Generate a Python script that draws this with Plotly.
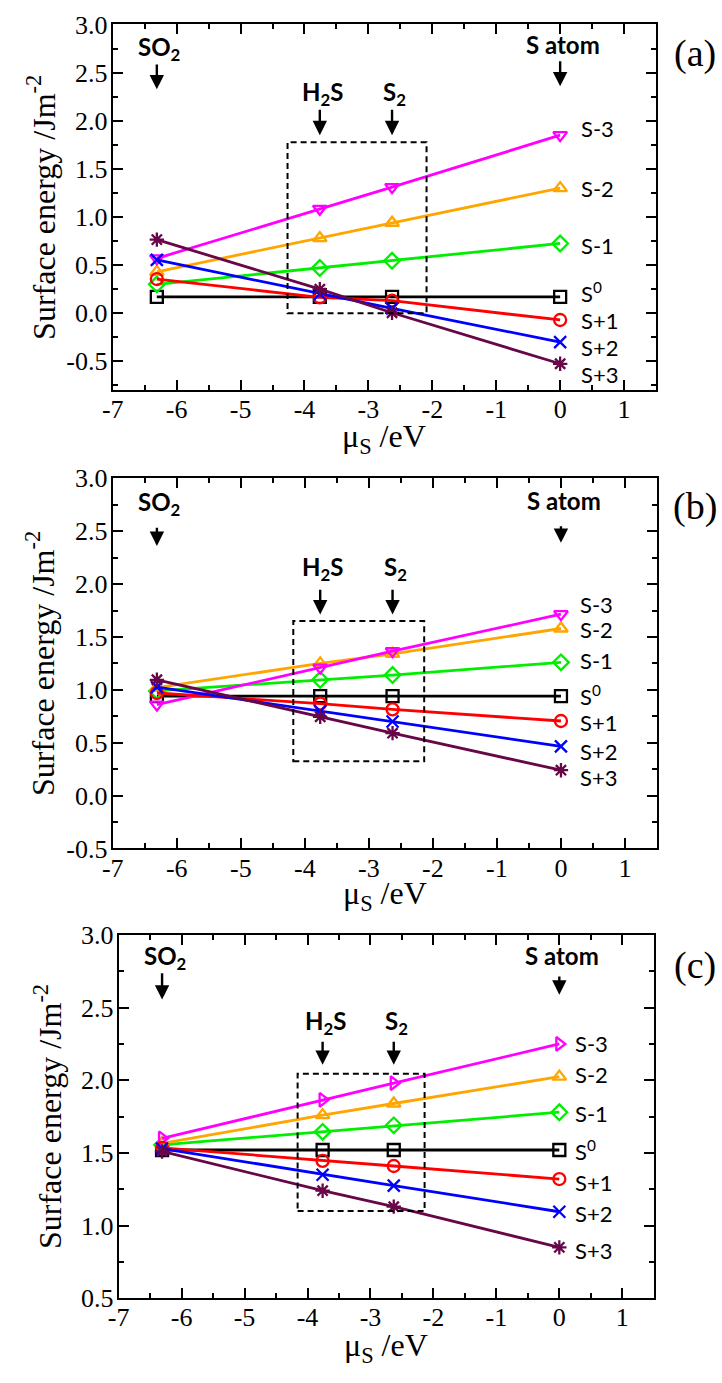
import plotly.graph_objects as go

# ---------------- data ----------------
mu_s = [-6.31, -3.76, -2.63, 0.0]          # SO2, H2S, S2, S atom

series_keys = ["S-3", "S-2", "S-1", "S0", "S+1", "S+2", "S+3"]
series_text = ["S-3", "S-2", "S-1", "S<sup>0</sup>", "S+1", "S+2", "S+3"]

# panel (a)
a_sm3 = [0.57, 1.085, 1.31, 1.85]
a_sm2 = [0.43, 0.78, 0.94, 1.30]
a_sm1 = [0.30, 0.47, 0.545, 0.725]
a_s0 = [0.17, 0.17, 0.17, 0.17]
a_sp1 = [0.355, 0.165, 0.13, -0.07]
a_sp2 = [0.555, 0.20, 0.05, -0.30]
a_sp3 = [0.765, 0.25, 0.005, -0.525]

# panel (b)
b_sm3 = [0.86, 1.21, 1.365, 1.715]
b_sm2 = [1.02, 1.25, 1.34, 1.58]
b_sm1 = [0.99, 1.095, 1.14, 1.26]
b_s0 = [0.94, 0.94, 0.94, 0.94]
b_sp1 = [0.97, 0.87, 0.815, 0.705]
b_sp2 = [1.025, 0.80, 0.70, 0.465]
b_sp3 = [1.095, 0.745, 0.59, 0.24]

# panel (c)
c_sm3 = [1.60, 1.865, 1.98, 2.25]
c_sm2 = [1.565, 1.76, 1.84, 2.025]
c_sm1 = [1.555, 1.645, 1.69, 1.78]
c_s0 = [1.52, 1.52, 1.52, 1.52]
c_sp1 = [1.535, 1.445, 1.41, 1.32]
c_sp2 = [1.53, 1.35, 1.275, 1.095]
c_sp3 = [1.51, 1.24, 1.13, 0.85]

x_tick_vals = [-7, -6, -5, -4, -3, -2, -1, 0, 1]
x_tick_text = ["-7", "-6", "-5", "-4", "-3", "-2", "-1", "0", "1"]
ab_y_tick_vals = [-0.5, 0.0, 0.5, 1.0, 1.5, 2.0, 2.5, 3.0]
ab_y_tick_text = ["-0.5", "0.0", "0.5", "1.0", "1.5", "2.0", "2.5", "3.0"]
c_y_tick_vals = [0.5, 1.0, 1.5, 2.0, 2.5, 3.0]
c_y_tick_text = ["0.5", "1.0", "1.5", "2.0", "2.5", "3.0"]

species_text = ["SO<sub>2</sub>", "H<sub>2</sub>S", "S<sub>2</sub>", "S atom"]
panel_names = ["(a)", "(b)", "(c)"]

# ---------------- styles ----------------
colors = {"S-3": "#FF00FF", "S-2": "#FFA500", "S-1": "#00EE00", "S0": "#000000",
          "S+1": "#FF0000", "S+2": "#0000FF", "S+3": "#670748"}
symbols = {"S-3": "triangle-down-open", "S-2": "triangle-up-open", "S-1": "diamond-open",
           "S0": "square-open", "S+1": "circle-open", "S+2": "x-thin-open", "S+3": "asterisk-open"}
draw_order = ["S0", "S-1", "S-2", "S-3", "S+1", "S+2", "S+3"]

SERIF = "Liberation Serif, Times New Roman, serif"
SANS = "Lato, Open Sans, sans-serif"
W, H = 722, 1383
TICKFONT = dict(family=SERIF, size=26, color="black")

panels = [
    dict(data=dict(zip(series_keys, [a_sm3, a_sm2, a_sm1, a_s0, a_sp1, a_sp2, a_sp3])),
         xdom=(103.3, 655.0), ydom=(10.7, 384.3), yrange=(-0.8, 3.0),
         ytv=ab_y_tick_vals, ytt=ab_y_tick_text, s3sym="triangle-down-open",
         box=(-4.265, -2.09, 0.0, 1.777),
         lab_x=0.29, lab_y=[1.92, 1.30, 0.705, 0.215, -0.075, -0.36, -0.635],
         top_y=(2.755, 2.79), top_arrow=((2.60, 2.326), (2.634, 2.357)),
         mid_y=2.285, mid_arrow=(2.13, 1.85),
         ytitle_x=31, xtitle_y=434, plab_y=40),
    dict(data=dict(zip(series_keys, [b_sm3, b_sm2, b_sm1, b_s0, b_sp1, b_sp2, b_sp3])),
         xdom=(103.3, 656.0), ydom=(474.3, 852.3), yrange=(-0.5, 3.0),
         ytv=ab_y_tick_vals, ytt=ab_y_tick_text, s3sym="triangle-down-open",
         box=(-4.18, -2.136, 0.324, 1.651),
         lab_x=0.26, lab_y=[1.81, 1.57, 1.28, 0.95, 0.69, 0.42, 0.17],
         top_y=(2.76, 2.79), top_arrow=((2.546, 2.36), (2.56, 2.39)),
         mid_y=2.145, mid_arrow=(1.96, 1.713),
         ytitle_x=30, xtitle_y=900, plab_y=503),
    dict(data=dict(zip(series_keys, [c_sm3, c_sm2, c_sm1, c_s0, c_sp1, c_sp2, c_sp3])),
         xdom=(109.3, 652.7), ydom=(940.7, 1311.7), yrange=(0.5, 3.0),
         ytv=c_y_tick_vals, ytt=c_y_tick_text, s3sym="triangle-right-open",
         box=(-4.157, -2.14, 1.10, 2.045),
         lab_x=0.225, lab_y=[2.25, 2.043, 1.774, 1.52, 1.297, 1.084, 0.826],
         top_y=(2.848, 2.86), top_arrow=((2.747, 2.555), (2.724, 2.589)),
         mid_y=2.398, mid_arrow=(2.275, 2.106),
         ytitle_x=37, xtitle_y=1362, plab_y=972),
]

fig = go.Figure()
annotations = []
shapes = []

for i, p in enumerate(panels):
    sfx = "" if i == 0 else str(i + 1)
    xa, ya = "x" + sfx, "y" + sfx
    for key in draw_order:
        sym = p["s3sym"] if key == "S-3" else symbols[key]
        fig.add_trace(go.Scatter(
            x=mu_s, y=p["data"][key], mode="lines+markers", xaxis=xa, yaxis=ya,
            line=dict(color=colors[key], width=2.8),
            marker=dict(symbol=sym, size=12, color=colors[key],
                        line=dict(color=colors[key], width=2.3)),
            showlegend=False, hoverinfo="skip"))

    common = dict(showline=True, linecolor="black", linewidth=2, mirror="allticks",
                  ticks="inside", ticklen=10, tickwidth=1.5, tickcolor="black",
                  showgrid=False, zeroline=False, tickfont=TICKFONT)
    fig.layout["xaxis" + sfx] = dict(
        common, domain=[p["xdom"][0] / W, p["xdom"][1] / W], range=[-7, 1.5],
        anchor=ya, tickmode="array", tickvals=x_tick_vals, ticktext=x_tick_text,
        ticklabelstandoff=-5,
        minor=dict(ticks="inside", ticklen=5, tickwidth=1.5, tickcolor="black",
                   dtick=0.5, tick0=0, showgrid=False))
    fig.layout["yaxis" + sfx] = dict(
        common, domain=[1 - p["ydom"][1] / H, 1 - p["ydom"][0] / H],
        range=list(p["yrange"]), anchor=xa, tickmode="array",
        tickvals=p["ytv"], ticktext=p["ytt"], ticklabelstandoff=-2,
        minor=dict(ticks="inside", ticklen=5, tickwidth=1.5, tickcolor="black",
                   dtick=0.25, tick0=0, showgrid=False))

    # dashed box
    bx0, bx1, by0, by1 = p["box"]
    shapes.append(dict(type="rect", xref=xa, yref=ya, x0=bx0, x1=bx1, y0=by0, y1=by1,
                       line=dict(color="black", width=2, dash="6px,4px")))

    # series labels on the right
    for txt, ly in zip(series_text, p["lab_y"]):
        annotations.append(dict(x=p["lab_x"], y=ly, xref=xa, yref=ya, text=txt,
                                showarrow=False, xanchor="left", yanchor="middle",
                                font=dict(family=SANS, size=22, color="black")))

    # species labels with arrows
    sp_ty = [p["top_y"][0], p["mid_y"], p["mid_y"], p["top_y"][1]]
    sp_arr = [p["top_arrow"][0], p["mid_arrow"], p["mid_arrow"], p["top_arrow"][1]]
    for txt, sx, ty, (a0, a1) in zip(species_text, mu_s, sp_ty, sp_arr):
        tx = sx + (0.05 if txt == "S atom" else 0.04)
        annotations.append(dict(x=tx, y=ty, xref=xa, yref=ya, text="<b>" + txt + "</b>",
                                showarrow=False, xanchor="center", yanchor="middle",
                                font=dict(family=SANS, size=24, color="black")))
        annotations.append(dict(x=sx, y=a1, xref=xa, yref=ya, ax=sx, ay=a0,
                                axref=xa, ayref=ya, text="", showarrow=True,
                                arrowhead=2, arrowsize=1.2, arrowwidth=2.4,
                                arrowcolor="black", standoff=0, startstandoff=0))

    # axis titles
    annotations.append(dict(x=p["ytitle_x"] / W, y=1 - (p["ydom"][0] + p["ydom"][1]) / 2 / H,
                            xref="paper", yref="paper", text="Surface energy /Jm<sup>-2</sup>",
                            textangle=-90, showarrow=False, xanchor="center", yanchor="middle",
                            font=dict(family=SERIF, size=32, color="black")))
    annotations.append(dict(x=(p["xdom"][0] + p["xdom"][1]) / 2 / W, y=1 - p["xtitle_y"] / H,
                            xref="paper", yref="paper", text="μ<sub>S</sub> /eV",
                            showarrow=False, xanchor="center", yanchor="middle",
                            font=dict(family=SERIF, size=32, color="black")))
    # panel label
    annotations.append(dict(x=695 / W, y=1 - p["plab_y"] / H, xref="paper", yref="paper",
                            text=panel_names[i], showarrow=False, xanchor="center",
                            yanchor="middle", font=dict(family=SERIF, size=38, color="black")))

fig.update_layout(width=W, height=H, margin=dict(l=0, r=0, t=0, b=0),
                  font=dict(family=SERIF, color="black"),
                  paper_bgcolor="white", plot_bgcolor="white",
                  shapes=shapes, annotations=annotations, showlegend=False)
fig.update_xaxes(tickfont=TICKFONT)
fig.update_yaxes(tickfont=TICKFONT)

fig.write_html("out.html", config={"displayModeBar": False},
               post_script="document.body.style.margin='0';document.body.style.padding='0';")
